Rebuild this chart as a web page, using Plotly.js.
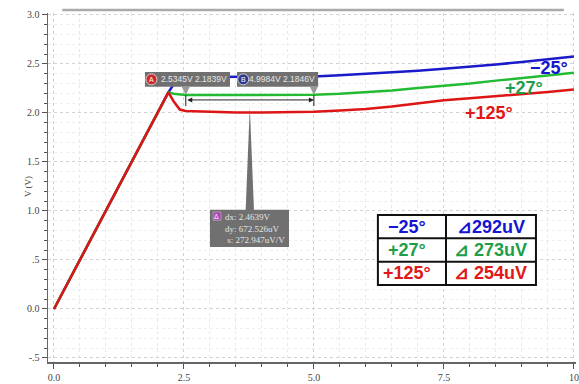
<!DOCTYPE html>
<html>
<head>
<meta charset="utf-8">
<script src="https://cdn.plot.ly/plotly-3.0.1.min.js"></script>
<style>
  html, body { margin: 0; padding: 0; background: #ffffff; }
  #chart { width: 579px; height: 384px; }
</style>
</head>
<body>
<div id="chart"></div>
<script>
// ---- data ----
const xs     = [0, 2.2, 2.3, 2.42, 2.53, 3.0, 3.5, 4.0, 4.5, 5.0, 5.5, 6.0, 6.5, 7.0, 7.5, 8.0, 8.5, 9.0, 9.5, 10.0];
const vMinus25 = [0, 2.21, 2.29, 2.365, 2.366, 2.366, 2.367, 2.368, 2.369, 2.372, 2.385, 2.398, 2.414, 2.43, 2.45, 2.47, 2.495, 2.52, 2.545, 2.575];
const vPlus27  = [0, 2.21, 2.197, 2.188, 2.184, 2.183, 2.183, 2.183, 2.184, 2.185, 2.195, 2.21, 2.23, 2.255, 2.275, 2.30, 2.33, 2.355, 2.38, 2.41];
const vPlus125 = [0, 2.21, 2.12, 2.035, 2.02, 2.01, 2.005, 2.005, 2.008, 2.012, 2.025, 2.04, 2.065, 2.10, 2.13, 2.15, 2.17, 2.195, 2.215, 2.24];

const seriesNames = ['-25°', '+27°', '+125°'];
const tempLabels  = ['\u221225\u00b0', '+27\u00b0', '+125\u00b0'];
const deltaLabels = ['\u22bf292uV', '\u22bf 273uV', '\u22bf 254uV'];

const xTickVals = [0, 2.5, 5, 7.5, 10];
const xTickText = ['0.0', '2.5', '5.0', '7.5', '10'];
const yTickVals = [3, 2.5, 2, 1.5, 1, 0.5, 0, -0.5];
const yTickText = ['3.0', '2.5', '2.0', '1.5', '1.0', '.5', '0.0', '-.5'];

const markerA = [2.5345, 2.1839];
const markerB = [4.9984, 2.1846];
const markerAText = '2.5345V 2.1839V';
const markerBText = '4.9984V 2.1846V';
const deltaText = ['dx: 2.4639V', 'dy: 672.526uV', '&nbsp;s: 272.947uV/V'];

// ---- styles ----
const lineColors = ['#1a1ac8', '#22bb33', '#dd1515'];
const textColors = ['#1414d2', '#1e9e4a', '#e01818'];
const serif = 'Liberation Serif, Times New Roman, serif';
const sans  = 'Liberation Sans, Arial, sans-serif';

const seriesVals = [vMinus25, vPlus27, vPlus125];
const traces = seriesVals.map((v, i) => ({
  x: xs, y: v, type: 'scatter', mode: 'lines', name: seriesNames[i],
  line: { color: lineColors[i], width: 2.5 }, hoverinfo: 'skip'
}));

const gray = '#707070';
const midX = (markerA[0] + markerB[0]) / 2;

const shapes = [
  // top gray bar
  { type: 'line', xref: 'paper', yref: 'paper', x0: 0.027, x1: 0.977, y0: 1.0086, y1: 1.0086,
    line: { color: '#aaaaaa', width: 2.5 } },
  // marker label boxes
  { type: 'rect', xref: 'x', yref: 'y', x0: 1.75, x1: 3.385, y0: 2.268, y1: 2.418,
    fillcolor: gray, line: { width: 0 } },
  { type: 'rect', xref: 'x', yref: 'y', x0: 3.52, x1: 5.08, y0: 2.268, y1: 2.418,
    fillcolor: gray, line: { width: 0 } },
  // pointer triangles of the markers
  { type: 'path', xref: 'x', yref: 'y',
    path: `M ${markerA[0]-0.08},2.27 L ${markerA[0]},${markerA[1]} L ${markerA[0]+0.08},2.27 Z`,
    fillcolor: '#9a9a9a', line: { width: 0 } },
  { type: 'path', xref: 'x', yref: 'y',
    path: `M ${markerB[0]-0.08},2.27 L ${markerB[0]},${markerB[1]} L ${markerB[0]+0.08},2.27 Z`,
    fillcolor: '#9a9a9a', line: { width: 0 } },
  // marker circles
  { type: 'circle', xref: 'x', yref: 'y', xsizemode: 'pixel', ysizemode: 'pixel',
    xanchor: 1.875, yanchor: 2.343, x0: -5.5, x1: 5.5, y0: -5.5, y1: 5.5,
    fillcolor: '#cc2a2a', line: { color: '#eeeeee', width: 0.8 } },
  { type: 'circle', xref: 'x', yref: 'y', xsizemode: 'pixel', ysizemode: 'pixel',
    xanchor: 3.64, yanchor: 2.343, x0: -5.5, x1: 5.5, y0: -5.5, y1: 5.5,
    fillcolor: '#2b3a90', line: { color: '#eeeeee', width: 0.8 } },
  // end ticks of dx bracket
  { type: 'line', xref: 'x', yref: 'y', x0: markerA[0], x1: markerA[0], y0: 2.07, y1: 2.18, line: { color: '#222', width: 1 } },
  { type: 'line', xref: 'x', yref: 'y', x0: markerB[0], x1: markerB[0], y0: 2.07, y1: 2.18, line: { color: '#222', width: 1 } },
  // spike to delta box
  { type: 'path', xref: 'x', yref: 'y',
    path: `M ${midX-0.08},1.01 L ${midX},2.06 L ${midX+0.08},1.01 Z`,
    fillcolor: gray, line: { width: 0 } },
  // delta box
  { type: 'rect', xref: 'x', yref: 'y', x0: 3.0, x1: 4.52, y0: 0.633, y1: 1.012,
    fillcolor: gray, line: { width: 0 } },
  { type: 'rect', xref: 'x', yref: 'y', x0: 3.06, x1: 3.21, y0: 0.905, y1: 0.99,
    fillcolor: '#a548b0', line: { color: '#e0c0e8', width: 0.5 } },
  // table
  { type: 'rect', xref: 'x', yref: 'y', x0: 6.23, x1: 9.27, y0: 0.245, y1: 0.959,
    fillcolor: '#ffffff', line: { color: '#111111', width: 2 } },
  { type: 'line', xref: 'x', yref: 'y', x0: 6.23, x1: 9.27, y0: 0.721, y1: 0.721, line: { color: '#111', width: 2 } },
  { type: 'line', xref: 'x', yref: 'y', x0: 6.23, x1: 9.27, y0: 0.483, y1: 0.483, line: { color: '#111', width: 2 } },
  { type: 'line', xref: 'x', yref: 'y', x0: 7.54, x1: 7.54, y0: 0.245, y1: 0.959, line: { color: '#111', width: 2 } }
];

const rowY = [0.840, 0.602, 0.364];
const annotations = [];
// marker labels
annotations.push({ x: 3.37, y: 2.343, xref: 'x', yref: 'y', xanchor: 'right', text: markerAText, showarrow: false,
  font: { family: sans, size: 8.5, color: '#e8e8e8' } });
annotations.push({ x: 5.06, y: 2.343, xref: 'x', yref: 'y', xanchor: 'right', text: markerBText, showarrow: false,
  font: { family: sans, size: 8.5, color: '#e8e8e8' } });
annotations.push({ x: 1.875, y: 2.343, xref: 'x', yref: 'y', text: 'A', showarrow: false,
  font: { family: sans, size: 7, color: '#ffffff' } });
annotations.push({ x: 3.64, y: 2.343, xref: 'x', yref: 'y', text: 'B', showarrow: false,
  font: { family: sans, size: 7, color: '#ffffff' } });
// dx bracket (double arrow)
annotations.push({ x: markerB[0], y: 2.133, ax: markerA[0], ay: 2.133, xref: 'x', yref: 'y', axref: 'x', ayref: 'y',
  text: '', showarrow: true, arrowhead: 2, startarrowhead: 2, arrowside: 'end+start',
  arrowsize: 1, arrowwidth: 1, arrowcolor: '#222' });
// delta box text
annotations.push({ x: 3.25, y: 1.005, xref: 'x', yref: 'y', xanchor: 'left', yanchor: 'top',
  text: deltaText.join('<br>'), showarrow: false, align: 'left',
  font: { family: serif, size: 9, color: '#e6e6e6' } });
annotations.push({ x: 3.135, y: 0.947, xref: 'x', yref: 'y', text: '\u0394', showarrow: false,
  font: { family: sans, size: 7, color: '#ffffff' } });
// curve labels and table cells
const curveLabelPos = [[9.52, 2.46], [9.04, 2.255], [8.375, 2.0]];
tempLabels.forEach((t, i) => {
  annotations.push({ x: curveLabelPos[i][0], y: curveLabelPos[i][1], xref: 'x', yref: 'y', text: '<b>' + t + '</b>',
    showarrow: false, font: { family: sans, size: 18, color: textColors[i] } });
  annotations.push({ x: 6.79, y: rowY[i], xref: 'x', yref: 'y', text: '<b>' + t + '</b>',
    showarrow: false, font: { family: sans, size: 18, color: textColors[i] } });
  annotations.push({ x: 8.40, y: rowY[i], xref: 'x', yref: 'y', text: '<b>' + deltaLabels[i] + '</b>',
    showarrow: false, font: { family: sans, size: 18, color: textColors[i] } });
});
// axis titles
annotations.push({ x: -0.05, y: 1.25, xref: 'paper', yref: 'y', text: 'V (V)', textangle: -90, showarrow: false,
  font: { family: serif, size: 9, color: '#444' } });
annotations.push({ x: 0.5, y: -0.054, xref: 'paper', yref: 'paper', yanchor: 'top', text: 'v (V)', showarrow: false,
  font: { family: serif, size: 10, color: '#444' } });

const layout = {
  width: 579, height: 384,
  margin: { l: 48, r: 3, t: 13, b: 22, pad: 0 },
  paper_bgcolor: '#ffffff', plot_bgcolor: '#ffffff',
  showlegend: false,
  font: { family: serif, size: 10, color: '#444' },
  xaxis: {
    range: [-0.115, 10.04], tickmode: 'array', tickvals: xTickVals, ticktext: xTickText,
    ticks: 'outside', ticklen: 5, tickcolor: '#555', tickwidth: 1,
    showline: true, linecolor: '#666', linewidth: 1.5, zeroline: false,
    showgrid: true, gridcolor: '#d2d2d2', griddash: 'dot', gridwidth: 1,
    tickfont: { family: serif, size: 10, color: '#444' },
    minor: { dtick: 0.5, tick0: 0, ticks: 'outside', ticklen: 3, tickcolor: '#555',
      showgrid: true, gridcolor: '#e8e8e8', griddash: 'dot', gridwidth: 1 }
  },
  yaxis: {
    range: [-0.541, 3.02], tickmode: 'array', tickvals: yTickVals, ticktext: yTickText,
    ticks: 'outside', ticklen: 5, tickcolor: '#555', tickwidth: 1,
    showline: true, linecolor: '#666', linewidth: 1.5, zeroline: false,
    showgrid: true, gridcolor: '#d2d2d2', griddash: 'dot', gridwidth: 1,
    tickfont: { family: serif, size: 10, color: '#444' },
    minor: { dtick: 0.1, tick0: 0, ticks: 'outside', ticklen: 3, tickcolor: '#555',
      showgrid: true, gridcolor: '#eeeeee', griddash: 'dot', gridwidth: 1 }
  },
  shapes: shapes,
  annotations: annotations
};

Plotly.newPlot('chart', traces, layout, { staticPlot: true, displayModeBar: false });
</script>
</body>
</html>
